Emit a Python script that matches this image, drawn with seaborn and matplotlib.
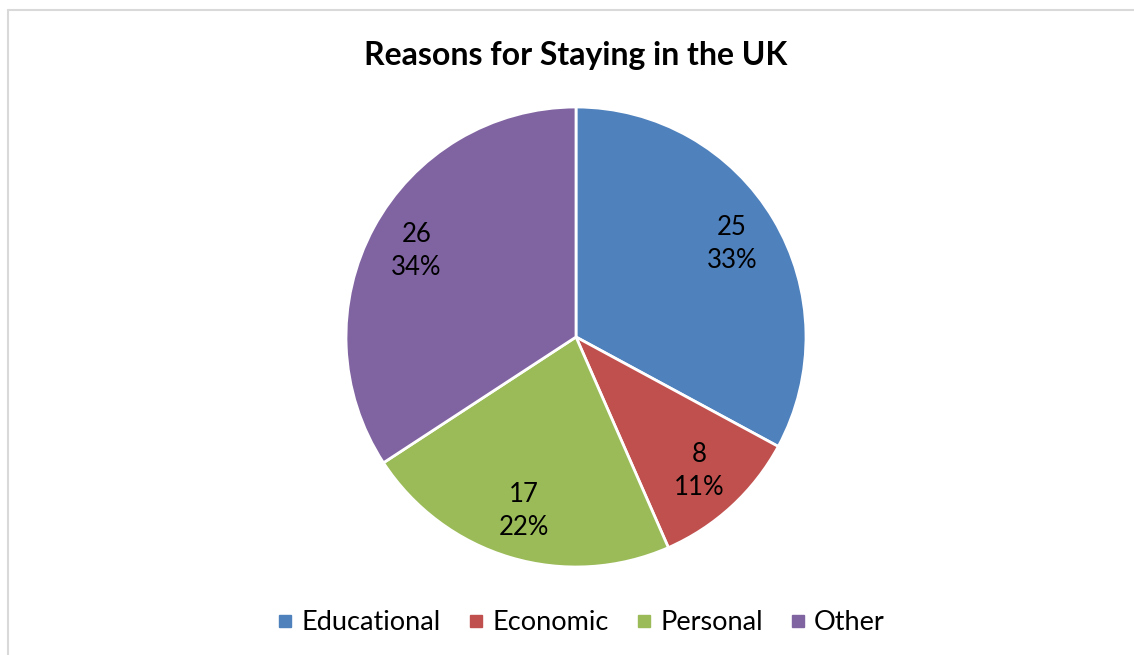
import matplotlib
matplotlib.use("Agg")
import matplotlib.pyplot as plt
import seaborn as sns
from matplotlib.lines import Line2D

# data
categories = ["Educational", "Economic", "Personal", "Other"]
counts = [25, 8, 17, 26]
colors = ["#4F81BD", "#C0504D", "#9BBB59", "#8064A2"]
title = "Reasons for Staying in the UK"

sns.set_theme(style="white")
plt.rcParams["font.family"] = ["Lato", "DejaVu Sans"]
plt.rcParams["text.color"] = "black"

W, H = 1134, 655
fig = plt.figure(figsize=(W / 100, H / 100), dpi=100)

# pie axes: centre (576, 337) px, radius 230 px
cx, cy, r = 576, 337, 230
ax = fig.add_axes([(cx - r) / W, (H - cy - r) / H, 2 * r / W, 2 * r / H])

total = sum(counts)


def fmt(pct):
    val = int(round(pct * total / 100.0))
    return f"{val}\n{pct:.0f}%"


wedges, _, autotexts = ax.pie(
    counts, colors=colors, startangle=90, counterclock=False,
    autopct=fmt, pctdistance=0.79,
    wedgeprops={"edgecolor": "white", "linewidth": 2},
    textprops={"fontsize": 18.5, "color": "black", "linespacing": 1.4},
)
ax.set_xlim(-1, 1)
ax.set_ylim(-1, 1)
ax.set_aspect("equal")
ax.axis("off")

fig.text(cx / W, 1 - 55 / H, title, ha="center", va="center",
         fontsize=23, fontweight="bold", color="black")

handles = [Line2D([0], [0], marker="s", linestyle="", markersize=9,
                  markerfacecolor=c, markeredgecolor=c) for c in colors]
fig.legend(handles, categories, loc="center", bbox_to_anchor=(581 / W, 1 - 623 / H),
           ncol=4, frameon=False, fontsize=19.5, handletextpad=0.3,
           columnspacing=1.0, handlelength=0.6, labelcolor="black")

# light chart-area border (left and top only visible in the crop)
fig.add_artist(Line2D([8 / W, 8 / W], [0, 1 - 10 / H], color="#d9d9d9",
                      linewidth=1.5, transform=fig.transFigure))
fig.add_artist(Line2D([8 / W, 1], [1 - 10 / H, 1 - 10 / H], color="#d9d9d9",
                      linewidth=1.5, transform=fig.transFigure))

fig.savefig("out.png", dpi=100, facecolor="white")
